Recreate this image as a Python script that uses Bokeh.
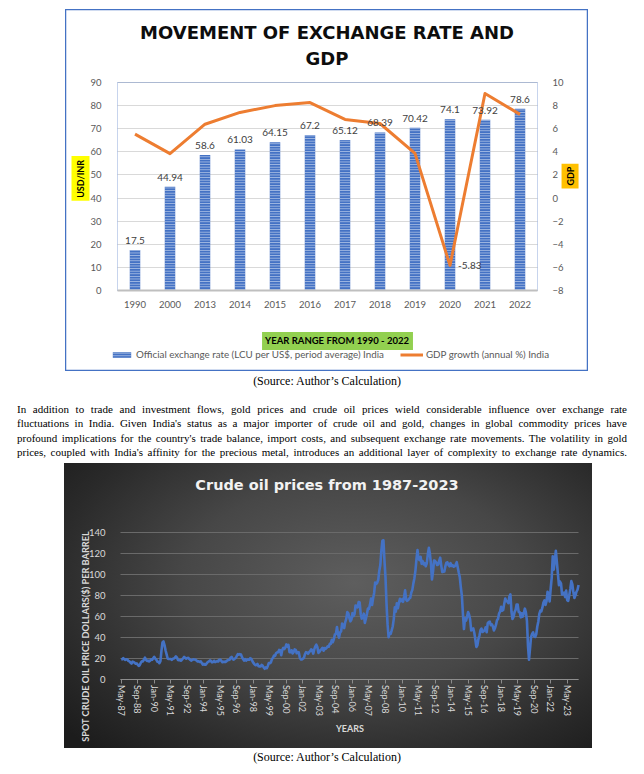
import math
from bokeh.plotting import figure
from bokeh.models import (Range1d, LinearAxis, FixedTicker, Label, LabelSet, ColumnDataSource,
                          Legend, LegendItem, Div, BoxAnnotation)
from bokeh.layouts import column
from bokeh.embed import file_html
from bokeh.resources import INLINE
from bokeh.core.properties import value

# ---------------- data: chart 1 ----------------
years = ["1990", "2000", "2013", "2014", "2015", "2016", "2017", "2018", "2019", "2020", "2021", "2022"]
exchange_rate = [17.5, 44.94, 58.6, 61.03, 64.15, 67.2, 65.12, 68.39, 70.42, 74.1, 73.92, 78.6]
exchange_labels = ["17.5", "44.94", "58.6", "61.03", "64.15", "67.2", "65.12", "68.39", "70.42", "74.1", "73.92", "78.6"]
gdp_growth = [5.53, 3.84, 6.39, 7.41, 8.0, 8.26, 6.8, 6.45, 3.87, -5.83, 9.05, 7.24]
left_ticks = [0, 10, 20, 30, 40, 50, 60, 70, 80, 90]
right_ticks = [-8, -6, -4, -2, 0, 2, 4, 6, 8, 10]
title1_lines = ["MOVEMENT OF EXCHANGE RATE AND", "GDP"]
legend1_labels = ["Official exchange rate (LCU per US$, period average) India", "GDP growth (annual %) India"]

# ---------------- data: chart 2 (monthly spot price, May-1987 .. Apr-2024) ----------------
brent_1987_1995 = [
    18.6, 18.9, 19.9, 19.0, 18.3, 18.8, 18.7, 17.3,
    16.8, 15.7, 14.7, 16.6, 16.3, 15.5, 14.7, 14.9, 13.7, 12.6, 13.3, 15.6,
    16.9, 16.8, 18.6, 20.4, 18.4, 17.3, 17.6, 16.9, 17.6, 18.8, 18.4, 19.8,
    21.2, 19.6, 18.5, 16.6, 16.5, 15.1, 17.0, 27.1, 34.9, 35.9, 32.3, 27.3,
    23.5, 19.6, 19.1, 19.2, 19.2, 18.3, 19.3, 19.6, 20.4, 21.6, 20.5, 18.2,
    17.9, 17.9, 17.5, 18.7, 19.9, 21.1, 20.2, 19.5, 20.1, 20.2, 19.1, 18.3,
    17.6, 18.4, 18.8, 18.7, 18.5, 17.6, 16.8, 17.0, 16.3, 16.9, 15.4, 13.8,
    14.5, 13.7, 13.7, 15.3, 16.4, 16.8, 17.9, 17.1, 15.9, 16.3, 17.4, 16.2,
    16.6, 17.2, 16.8, 18.4, 18.5, 17.3, 16.0, 16.4, 16.6, 16.3, 17.1, 17.9,
]
brent_1996_2004 = [
    18.2, 18.5, 20.4, 21.1, 19.1, 18.5, 19.5, 20.1, 22.1, 23.9, 23.3, 23.8,
    23.5, 20.9, 19.1, 17.6, 19.0, 17.6, 18.5, 18.6, 18.5, 19.9, 19.2, 17.4,
    15.5, 14.2, 13.2, 13.4, 14.4, 12.3, 12.1, 11.9, 13.5, 12.9, 11.0, 9.8,
    11.1, 10.3, 12.5, 15.3, 15.2, 15.9, 19.1, 20.2, 22.5, 22.0, 24.6, 25.5,
    25.5, 27.8, 27.5, 22.8, 27.7, 29.8, 28.7, 30.2, 33.1, 31.0, 32.6, 25.7,
    25.6, 27.5, 24.5, 25.7, 28.3, 27.9, 24.6, 25.7, 25.6, 20.5, 18.8, 18.7,
    19.4, 20.3, 23.7, 25.7, 25.4, 24.1, 25.7, 26.7, 28.4, 27.5, 24.3, 28.3,
    31.2, 32.8, 30.6, 25.0, 25.9, 27.7, 28.4, 29.9, 27.1, 29.6, 28.8, 29.8,
    31.3, 30.9, 33.6, 33.6, 37.6, 35.2, 38.2, 42.7, 43.2, 49.8, 43.1, 39.6,
]
brent_2005_2014 = [
    44.5, 45.5, 53.1, 51.9, 48.7, 54.4, 57.5, 64.0, 62.9, 58.5, 55.2, 56.9,
    63.0, 60.2, 62.1, 70.3, 69.8, 68.6, 73.7, 73.2, 62.0, 57.8, 58.8, 62.5,
    53.7, 57.6, 62.1, 67.5, 67.2, 71.1, 76.9, 70.8, 77.2, 82.3, 92.4, 90.9,
    92.2, 95.0, 103.6, 109.1, 122.8, 132.3, 132.7, 113.2, 97.2, 71.6, 52.5, 40.0,
    43.4, 43.3, 46.5, 50.2, 57.3, 68.6, 64.4, 72.5, 67.7, 72.8, 76.7, 74.5,
    76.2, 73.8, 78.8, 84.8, 76.0, 74.8, 75.6, 77.0, 77.8, 82.7, 85.3, 91.5,
    96.5, 103.7, 114.6, 123.3, 115.0, 113.8, 117.0, 110.2, 112.8, 109.6, 110.8, 107.9,
    110.7, 119.3, 125.5, 119.8, 110.3, 95.2, 102.6, 113.4, 112.9, 111.7, 109.1, 109.5,
    113.0, 116.1, 108.5, 102.3, 102.6, 102.9, 107.9, 111.3, 111.6, 109.1, 107.8, 110.8,
    108.1, 108.9, 107.5, 107.8, 109.5, 111.8, 106.8, 101.6, 97.1, 87.4, 79.4, 62.3,
]
brent_2015_2024 = [
    47.8, 58.1, 55.9, 59.5, 64.1, 61.5, 56.6, 46.5, 47.6, 48.4, 44.3, 38.0,
    30.7, 32.2, 38.2, 41.6, 46.7, 48.3, 45.0, 45.8, 46.6, 49.5, 44.7, 53.3,
    54.6, 54.9, 51.6, 52.3, 50.3, 46.4, 48.5, 51.7, 56.2, 57.5, 62.7, 64.4,
    69.1, 65.3, 66.0, 72.1, 77.0, 74.4, 74.3, 72.5, 78.9, 81.0, 64.8, 57.4,
    59.4, 64.0, 66.1, 71.2, 71.3, 64.2, 63.9, 59.0, 62.8, 59.7, 63.2, 67.3,
    63.7, 55.7, 32.0, 18.4, 29.4, 40.3, 43.2, 44.7, 40.9, 40.2, 42.7, 50.0,
    54.8, 62.3, 65.4, 64.8, 68.5, 73.2, 75.2, 70.8, 74.5, 83.5, 81.1, 74.2,
    86.5, 97.1, 117.3, 104.6, 113.3, 122.7, 111.9, 100.5, 89.8, 93.3, 91.4, 80.9,
    82.5, 82.6, 78.4, 84.6, 75.5, 74.8, 80.1, 86.2, 93.7, 90.6, 82.9, 77.6,
    80.1, 83.5, 85.4, 89.9,
]
oil_price = brent_1987_1995 + brent_1996_2004 + brent_2005_2014 + brent_2015_2024
oil_month = list(range(len(oil_price)))  # month index, 0 = May-87
oil_tick_labels = ["May-87", "Sep-88", "Jan-90", "May-91", "Sep-92", "Jan-94", "May-95", "Sep-96",
                   "Jan-98", "May-99", "Sep-00", "Jan-02", "May-03", "Sep-04", "Jan-06", "May-07",
                   "Sep-08", "Jan-10", "May-11", "Sep-12", "Jan-14", "May-15", "Sep-16", "Jan-18",
                   "May-19", "Sep-20", "Jan-22", "May-23"]
oil_tick_step = 16
oil_y_ticks = [0, 20, 40, 60, 80, 100, 120, 140]
title2 = "Crude oil prices from 1987-2023"
oil_ylabel = "SPOT CRUDE OIL PRICE DOLLARS($)  PER BARREL"

FONT = "Lato"

# ================= chart 1 =================
bar_x = list(range(len(years)))
src1 = ColumnDataSource(dict(x=bar_x, year=years, rate=exchange_rate, lab=exchange_labels, gdp=gdp_growth))
n1 = len(years)
lo1, hi1 = -0.5, n1 - 0.5

p1 = figure(width=523, height=362, x_range=Range1d(lo1 - 52 / 35, hi1 + 51 / 35),
            y_range=Range1d(-81 / 2.3111, 281 / 2.3111),
            output_backend="svg", toolbar_location=None, min_border=0,
            background_fill_color="white", border_fill_color="white")
p1.margin = (9, 0, 0, 65)
p1.outline_line_color = "#4472C4"
p1.outline_line_width = 1.5
p1.extra_y_ranges = {"gdp": Range1d(-8 - 81 / 11.556, -8 + 281 / 11.556)}

p1.xgrid.grid_line_color = None
p1.ygrid.ticker = FixedTicker(ticks=left_ticks)
p1.ygrid.grid_line_color = "#D9D9D9"
p1.ygrid.cross_bounds = (lo1, hi1)

p1.add_layout(BoxAnnotation(left=lo1, right=hi1, bottom=left_ticks[0], top=left_ticks[-1],
                            fill_color=None, line_color="#4472C4", line_width=1, level="underlay"))

ya = p1.yaxis[0]
ya.fixed_location = lo1
ya.ticker = FixedTicker(ticks=left_ticks)
ya.axis_line_color = None
ya.major_tick_line_color = None
ya.minor_tick_line_color = None
ya.major_label_text_font = FONT
ya.major_label_text_font_size = "9.5px"
ya.major_label_text_color = "#595959"
ya.major_label_standoff = 10

rax = LinearAxis(y_range_name="gdp", ticker=FixedTicker(ticks=right_ticks), fixed_location=hi1)
rax.axis_line_color = None
rax.major_tick_line_color = None
rax.minor_tick_line_color = None
rax.major_label_text_font = FONT
rax.major_label_text_font_size = "9.5px"
rax.major_label_text_color = "#595959"
rax.major_label_standoff = 9
p1.add_layout(rax, "right")

xa = p1.xaxis[0]
xa.fixed_location = 0
xa.bounds = (lo1, hi1)
xa.ticker = FixedTicker(ticks=bar_x)
xa.major_label_overrides = {i: y for i, y in zip(bar_x, years)}
xa.axis_line_color = "#BFBFBF"
xa.axis_line_width = 2
xa.major_tick_line_color = None
xa.minor_tick_line_color = None
xa.major_label_text_font = FONT
xa.major_label_text_font_size = "9.5px"
xa.major_label_text_color = "#595959"
xa.major_label_standoff = 4

bars = p1.vbar(x="x", top="rate", width=0.3, source=src1, fill_color="#4472C4", line_color=None,
               hatch_pattern="horizontal_line", hatch_color="#FFFFFF", hatch_alpha=0.55,
               hatch_scale=2.6, hatch_weight=1)
gline = p1.line(x="x", y="gdp", source=src1, y_range_name="gdp", line_color="#ED7D31",
                line_width=3, line_join="round")

p1.add_layout(LabelSet(x="x", y="rate", text="lab", source=src1, text_align="center",
                       text_baseline="alphabetic", y_offset=6, text_font=value(FONT),
                       text_font_size="10px", text_color="#404040"))
p1.add_layout(Label(x=bar_x[9], y=gdp_growth[9], y_range_name="gdp", text="-5.83", x_offset=8,
                    text_align="left", text_baseline="middle", text_font=FONT,
                    text_font_size="10px", text_color="#404040"))

for txt, yy in zip(title1_lines, [111.85, 100.6]):
    p1.add_layout(Label(x=5.486, y=yy, text=txt, text_align="center", text_baseline="middle",
                        text_font="DejaVu Sans", text_font_style="bold", text_font_size="18px",
                        text_color="#0D0D0D"))

p1.add_layout(Label(x=-1.557, y=48.5, text="USD/INR", angle=math.pi / 2, text_align="center",
                    text_baseline="middle", text_font=FONT, text_font_style="bold", text_font_size="9px",
                    text_color="#000000", background_fill_color="#FFFF00", padding=(3, 4, 3, 4)))
p1.add_layout(Label(x=12.43, y=49.5, text="GDP", angle=math.pi / 2, text_align="center",
                    text_baseline="middle", text_font=FONT, text_font_style="bold", text_font_size="9px",
                    text_color="#000000", background_fill_color="#FFC000", padding=(3, 3, 3, 3)))
p1.add_layout(Label(x=5.786, y=-21.85, text="YEAR RANGE FROM 1990 - 2022", text_align="center",
                    text_baseline="middle", text_font=FONT, text_font_style="bold", text_font_size="9.5px",
                    text_color="#000000", background_fill_color="#92D050", padding=(3, 4, 3, 4)))

leg = Legend(items=[LegendItem(label=legend1_labels[0], renderers=[bars]),
                    LegendItem(label=legend1_labels[1], renderers=[gline])],
             location=(45, 11), orientation="horizontal", glyph_width=23, glyph_height=7,
             label_height=10, label_standoff=3, spacing=16, padding=0, margin=0,
             border_line_color=None, background_fill_alpha=0,
             label_text_font=FONT, label_text_font_size="9.8px", label_text_color="#595959")
p1.add_layout(leg)

# ================= middle text =================
para_lines = [
    "In addition to trade and investment flows, gold prices and crude oil prices wield considerable influence over exchange rate",
    "fluctuations in India. Given India's status as a major importer of crude oil and gold, changes in global commodity prices have",
    "profound implications for the country's trade balance, import costs, and subsequent exchange rate movements. The volatility in gold",
    "prices, coupled with India's affinity for the precious metal, introduces an additional layer of complexity to exchange rate dynamics.",
]
source_text = "(Source: Author\u2019s Calculation)"
SERIF = "font-family:'Liberation Serif','Times New Roman',serif;"

lines_html = "".join(
    f'<div style="{SERIF}text-align:justify;text-align-last:justify;height:14.3px;line-height:14.3px;">{t}</div>'
    for t in para_lines)
mid_html = (
    f'<div style="position:relative;width:640px;height:92px;{SERIF}color:#000;">'
    f'<div style="{SERIF}position:absolute;top:2px;left:13px;width:628px;text-align:center;font-size:12px;line-height:16px;">{source_text}</div>'
    f'<div style="{SERIF}position:absolute;top:31px;left:17px;width:610px;font-size:11px;">{lines_html}</div>'
    '</div>')
div_mid = Div(text=mid_html, width=640, height=92, margin=0)

# ================= chart 2 =================
lo2, hi2 = -0.7, 443
p2 = figure(width=528, height=285, x_range=Range1d(-56.7 / 1.0324, (528 - 56.7) / 1.0324),
            y_range=Range1d(-69.5 / 1.0451, 215.5 / 1.0451),
            output_backend="svg", toolbar_location=None, min_border=0,
            background_fill_color=None, border_fill_color=None, outline_line_color=None)
p2.margin = (0, 0, 0, 64)
p2.styles = {"background": "radial-gradient(ellipse 72% 80% at 55% 42%, #5e5e5e 0%, #474747 45%, #2a2a2a 80%, #1c1c1c 100%)"}

p2.xgrid.grid_line_color = None
p2.ygrid.ticker = FixedTicker(ticks=oil_y_ticks)
p2.ygrid.grid_line_color = "#6A6A6A"
p2.ygrid.cross_bounds = (lo2, hi2)

ya2 = p2.yaxis[0]
ya2.fixed_location = lo2
ya2.ticker = FixedTicker(ticks=oil_y_ticks)
ya2.axis_line_color = None
ya2.major_tick_line_color = None
ya2.minor_tick_line_color = None
ya2.major_label_text_font = FONT
ya2.major_label_text_font_size = "9.5px"
ya2.major_label_text_color = "#D9D9D9"
ya2.major_label_standoff = 9

oil_ticks = [i * oil_tick_step for i in range(len(oil_tick_labels))]
xa2 = p2.xaxis[0]
xa2.fixed_location = 0
xa2.bounds = (lo2, hi2)
xa2.ticker = FixedTicker(ticks=oil_ticks)
xa2.major_label_overrides = {t: lab for t, lab in zip(oil_ticks, oil_tick_labels)}
xa2.major_label_orientation = "vertical"
xa2.axis_line_color = "#8C8C8C"
xa2.major_tick_line_color = "#8C8C8C"
xa2.major_tick_in = 0
xa2.major_tick_out = 4
xa2.minor_tick_line_color = None
xa2.major_label_text_font = FONT
xa2.major_label_text_font_size = "9px"
xa2.major_label_text_color = "#D9D9D9"
xa2.major_label_standoff = 2

p2.line(oil_month, oil_price, line_color="#4472C4", line_width=2.6, line_join="round")

p2.add_layout(Label(x=199.3, y=185.9, text=title2, text_align="center", text_baseline="middle",
                    text_font="DejaVu Sans", text_font_style="bold", text_font_size="14.5px",
                    text_color="#F2F2F2"))
p2.add_layout(Label(x=221.6, y=-46.9, text="YEARS", text_align="center", text_baseline="middle",
                    text_font=FONT, text_font_style="bold", text_font_size="9px", text_color="#D9D9D9"))
p2.add_layout(Label(x=-34.6, y=42.0, text=oil_ylabel, angle=math.pi / 2,
                    text_align="center", text_baseline="middle", text_font=FONT, text_font_style="bold",
                    text_font_size="9.2px", text_color="#D9D9D9"))

# ================= bottom text =================
bot_html = (
    f'<div style="position:relative;width:640px;height:18px;{SERIF}color:#000;">'
    f'<div style="{SERIF}position:absolute;top:1px;left:13px;width:628px;text-align:center;font-size:12px;line-height:16px;">{source_text}</div>'
    '</div>')
div_bot = Div(text=bot_html, width=640, height=18, margin=0)

layout = column(p1, div_mid, p2, div_bot, spacing=0)
open("out.html", "w").write(file_html(layout, INLINE))
